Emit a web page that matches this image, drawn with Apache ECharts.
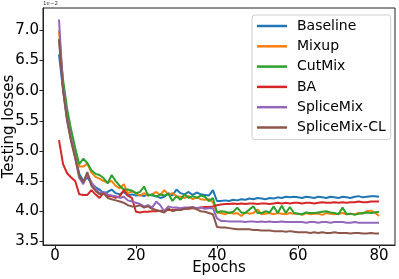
<!DOCTYPE html>
<html><head><meta charset="utf-8">
<script src="https://cdn.jsdelivr.net/npm/echarts@6/dist/echarts.min.js"></script>
<style>html,body{margin:0;padding:0;background:#fff}#c{width:399px;height:279px}</style>
</head><body><div id="c"></div>
<script>
const seriesNames = ['Baseline','Mixup','CutMix','BA','SpliceMix','SpliceMix-CL'];
const xTicks = [0,20,40,60,80];
const yTicks = [3.5,4.0,4.5,5.0,5.5,6.0,6.5,7.0];
const baseline = [6.60,6.02,5.52,5.18,4.92,4.62,4.50,4.56,4.46,4.40,
4.36,4.30,4.32,4.36,4.30,4.28,4.32,4.26,4.28,4.26,
4.27,4.25,4.28,4.26,4.25,4.22,4.24,4.30,4.26,4.36,
4.30,4.28,4.32,4.27,4.31,4.28,4.27,4.26,4.35,4.17,
4.17,4.18,4.17,4.19,4.18,4.20,4.19,4.21,4.20,4.22,
4.21,4.20,4.22,4.21,4.23,4.22,4.24,4.23,4.24,4.23,
4.22,4.24,4.23,4.22,4.24,4.23,4.22,4.24,4.23,4.22,
4.24,4.23,4.22,4.24,4.25,4.23,4.24,4.25,4.25,4.24];
const mixup = [7.00,6.10,5.62,5.28,4.98,4.74,4.74,4.79,4.64,4.57,
4.54,4.50,4.48,4.50,4.42,4.38,4.45,4.30,4.33,4.30,
4.26,4.30,4.26,4.28,4.32,4.27,4.35,4.28,4.30,4.25,
4.24,4.22,4.25,4.20,4.23,4.20,4.19,4.20,4.15,3.98,
3.97,3.95,3.98,3.96,3.97,3.92,3.98,3.96,3.97,4.03,
3.95,3.96,3.97,3.95,3.97,3.96,3.95,3.97,3.96,3.96,
3.94,3.97,3.95,3.96,3.96,3.94,3.97,3.96,3.95,3.96,
3.97,3.95,3.96,3.95,3.97,3.96,4.00,4.01,3.98,3.92];
const cutmix = [6.85,6.18,5.70,5.35,5.05,4.78,4.87,4.80,4.68,4.62,
4.60,4.55,4.46,4.60,4.50,4.42,4.36,4.36,4.34,4.30,
4.32,4.41,4.26,4.28,4.24,4.28,4.26,4.29,4.17,4.25,
4.19,4.28,4.22,4.25,4.22,4.26,4.24,4.17,4.22,3.98,
4.00,3.99,3.97,3.99,4.06,3.98,3.97,4.03,4.08,3.97,
3.97,4.00,3.98,4.08,3.97,4.09,3.97,4.07,3.97,3.96,
3.95,3.98,3.97,3.97,3.98,3.99,4.00,3.98,3.97,3.95,
4.06,3.95,3.96,3.94,3.96,3.97,3.98,3.97,3.98,3.99];
const ba = [5.18,4.78,4.63,4.56,4.50,4.28,4.27,4.27,4.35,4.28,
4.22,4.30,4.25,4.25,4.22,4.25,4.35,4.26,4.22,3.99,
3.98,3.99,3.99,4.00,4.00,4.01,4.01,4.02,4.02,4.03,
4.03,4.04,4.04,4.05,4.05,4.06,4.07,4.07,4.08,4.10,
4.11,4.12,4.12,4.13,4.12,4.13,4.12,4.13,4.13,4.12,
4.13,4.13,4.12,4.13,4.14,4.13,4.14,4.13,4.14,4.14,
4.13,4.14,4.14,4.13,4.14,4.15,4.14,4.14,4.15,4.14,
4.15,4.14,4.15,4.15,4.16,4.15,4.15,4.16,4.16,4.16];
const splicemix = [7.18,6.05,5.55,5.20,4.90,4.55,4.45,4.62,4.48,4.38,
4.30,4.32,4.28,4.26,4.25,4.22,4.24,4.18,4.16,4.14,
4.12,4.08,4.10,4.06,4.16,4.10,4.00,4.08,4.06,4.06,
4.05,4.06,4.06,4.07,4.05,4.06,4.04,4.05,4.05,3.88,
3.84,3.84,3.83,3.83,3.83,3.83,3.82,3.83,3.83,3.82,
3.83,3.82,3.83,3.82,3.82,3.83,3.82,3.82,3.82,3.82,
3.82,3.81,3.82,3.82,3.81,3.82,3.82,3.81,3.82,3.82,
3.82,3.81,3.81,3.82,3.81,3.81,3.81,3.81,3.81,3.81];
const splicemixCL = [6.85,6.00,5.50,5.15,4.88,4.58,4.48,4.65,4.42,4.34,
4.28,4.30,4.22,4.20,4.18,4.16,4.14,4.10,4.08,4.08,
4.10,4.06,4.08,4.04,4.02,4.00,3.98,4.05,4.00,4.02,
4.02,4.04,4.05,4.06,4.03,4.00,3.99,3.97,3.95,3.74,
3.73,3.73,3.72,3.71,3.70,3.70,3.70,3.70,3.69,3.69,
3.68,3.68,3.68,3.67,3.67,3.67,3.66,3.67,3.66,3.65,
3.65,3.65,3.64,3.65,3.64,3.65,3.64,3.64,3.65,3.64,
3.64,3.64,3.63,3.64,3.64,3.63,3.63,3.64,3.63,3.63];
const colors = ['#1f77b4','#ff7f0e','#2ca02c','#d62728','#9467bd','#8c564b'];
const allData = [baseline, mixup, cutmix, ba, splicemix, splicemixCL];
const font = 'DejaVu Sans';

const chart = echarts.init(document.getElementById('c'), null, {renderer:'canvas'});
chart.setOption({
  animation: false,
  color: colors,
  textStyle: {fontFamily: font},
  grid: {left: 43, right: 4, top: 8, bottom: 34, outerBoundsMode: 'none', containLabel: false,
    show: true, borderColor: '#222', borderWidth: 1, backgroundColor: '#fff'},
  xAxis: {
    type: 'value', min: -2.95, max: 83.95,
    name: 'Epochs', nameLocation: 'middle', nameGap: 16, nameMoveOverlap: false,
    nameTextStyle: {fontSize: 15, color: '#000', fontFamily: font},
    axisLine: {show: true, onZero: false, lineStyle: {color: '#222', width: 1}},
    axisTick: {show: true, length: 3.5, customValues: xTicks, lineStyle: {color: '#222'}},
    axisLabel: {customValues: xTicks, fontSize: 15, color: '#000', margin: 4, fontFamily: font,
      formatter: v => String(Math.round(v))},
    splitLine: {show: false}
  },
  yAxis: {
    type: 'value', min: 3.44, max: 7.37,
    name: 'Testing losses', nameLocation: 'middle', nameGap: 26, nameRotate: 90, nameMoveOverlap: false,
    nameTextStyle: {fontSize: 15, color: '#000', fontFamily: font},
    axisLine: {show: true, onZero: false, lineStyle: {color: '#222', width: 1}},
    axisTick: {show: true, length: 3.5, customValues: yTicks, lineStyle: {color: '#222'}},
    axisLabel: {customValues: yTicks, fontSize: 15, color: '#000', margin: 4, fontFamily: font,
      formatter: v => v.toFixed(1)},
    splitLine: {show: false}
  },
  legend: {
    orient: 'vertical', left: 252, top: 15,
    padding: [3, 5, 4, 5],
    itemWidth: 30, itemHeight: 2.5, itemGap: 4.3, icon: 'rect',
    backgroundColor: 'rgba(255,255,255,0.8)', borderColor: '#d0d0d0', borderWidth: 1, borderRadius: 3,
    textStyle: {fontSize: 14, lineHeight: 16, color: '#000', fontFamily: font, padding: [0,0,0,5]},
    data: seriesNames
  },
  graphic: [{type: 'text', left: 43, top: 1, style: {text: '1e\u22122', fontSize: 5.5, fill: '#333', fontFamily: font}}],
  series: allData.map((d, i) => ({
    name: seriesNames[i], type: 'line', showSymbol: false, symbol: 'none',
    data: d.map((v, j) => [j + 1, v]),
    lineStyle: {width: 2, color: colors[i]}, itemStyle: {color: colors[i]},
    z: 2 + i
  }))
});
</script></body></html>
